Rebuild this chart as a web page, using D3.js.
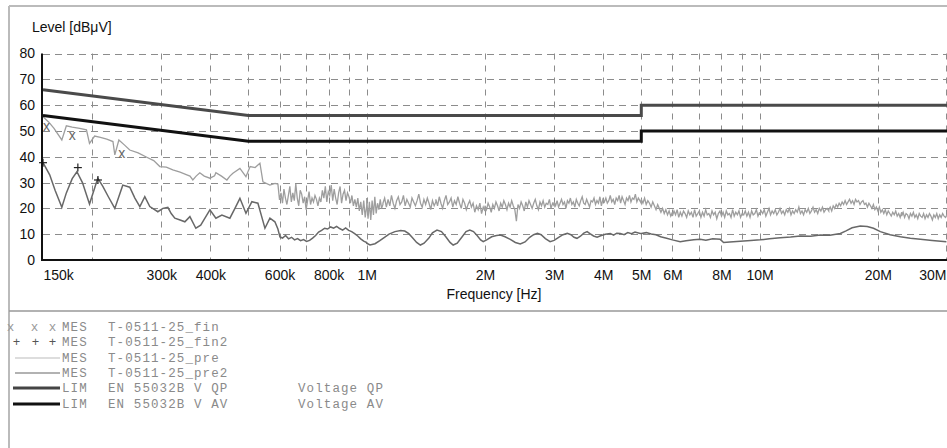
<!DOCTYPE html>
<html>
<head>
<meta charset="utf-8">
<script src="https://cdn.jsdelivr.net/npm/d3@7"></script>
<style>
  body { margin: 0; background: #fff; }
  svg { display: block; }
  .lbl { font-family: "Liberation Sans", Arial, sans-serif; font-size: 14px; fill: #111; }
  .leg { font-family: "Liberation Mono", "Courier New", monospace; font-size: 12.5px; letter-spacing: 1.1px; fill: #8a8a8a; }
</style>
</head>
<body>
<div class="chart"></div>
<script>

var svgWidth = 947;
var svgHeight = 448;

// limits (MHz, dBuV)
var limQP = [[0.15, 66], [0.5, 56], [5, 56], [5, 60], [30, 60]];
var limAV = [[0.15, 56], [0.5, 46], [5, 46], [5, 50], [30, 50]];

// final measurements
var finQP = [[0.153, 51.7], [0.178, 48], [0.238, 41]];
var finAV = [[0.15, 37.7], [0.184, 35.8], [0.207, 31]];

// pre scan, upper trace, below 600k
var preLow = [[0.150,55.5],[0.155,53.5],[0.160,51],[0.1675,46.5],[0.172,52],[0.178,51.5],[0.186,51],[0.1935,50.4],
  [0.197,45.2],[0.203,48],[0.210,47.5],[0.218,46.8],[0.226,45.9],[0.2285,40.7],[0.234,46.5],[0.242,44.5],
  [0.2494,42.6],[0.262,41.5],[0.2756,39.8],[0.287,38.5],[0.2975,36.2],[0.309,36],[0.321,34.9],[0.335,34],
  [0.3485,33],[0.355,32.5],[0.361,31],[0.368,32.5],[0.376,33.8],[0.386,32.5],[0.399,31.7],[0.41,32.6],
  [0.4132,33.8],[0.427,32.5],[0.4407,31],[0.4485,32.5],[0.4565,33.6],[0.4757,35.5],[0.4928,32.3],[0.505,36.2],
  [0.52,35.8],[0.5286,36.8],[0.5349,37.5],[0.5444,30.3],[0.5671,29],[0.5843,29.7],[0.5943,29.4],[0.600,23.3]];

// pre scan, upper trace, sweep segments [start MHz, stop MHz, values]
var preA = [23.3,26,22,27.5,24,21.5,25,28.5,22.5,26,23,29.5,24,21,27,25.5,22,24.5,19.5,23,26.5,21.5,24,22.5,25,
  23.5,21,24,22.5,27,24,28.5,22.5,26.5,25,29,23,27.5,24,21.5,26,28.5,22,25.5,27,23,26,24.5,22,25,21,23.5,20.5,
  24,19,22.5,17.5,23,16.5,21];
var preB1 = [24,16,22.5,15.5,23,17.5,24.5,18,22,19.5,23.5,20,21.5];
var preB2 = [22,24,20.5,23.5,21,25,22,20,23,24.5,21.5,22.5,25,21,23.5,22,20.5,24,22.5,21,23,25.5,22,20.5,23.5,
  21.5,24,22,19.5,23,21,22.5];
var preB3 = [23.5,21,24.5,22,20,23,25,21.5,22.5,24,20.5,23,21.5,24.5,22,20,23.5,22,19.5,21.5,23,20.5,22,18.5,
  21,19.5,22,18,20.5,19];
var preB4 = [21,19.5,22,20.5,18.5,21.5,20,22.5,21,19,22,20.5,23,21.5,19.5,22,20.5,23,21,19.5,15,21.5,20,22.5,
  21,19,22.5,20.5,23,21.5,20,22,23.5,21,19.5,22.5,21,23,20.5,22,21.5,23.5,20,22,21];
var preB5 = [22.5,21,23,20.5,22,23.5,21.5,22.5,20,23,22,24,21.5,22.5,20.5,23.5,22,21,23,24.5,22,21.5,23.5,22,
  20.5,23,22.5,24,21.5,23,22,24.5,21,23.5,22.5,24,22,23,25,22.5,23.5,21.5,24,23,25,22,24.5,23,21.5,24,23,25,
  22.5,24,23.5,25.5,22.5,24,23,22];
var preC1 = [23.5,22,24,21.5,23,22,20.5,22.5,21,19.5,21.5,20,18.5,20,18,19.5,17.5,19,17,18.5];
var preC2 = [17,19,17.5,19.5,16.5,18.5,17,19,18,16.5,19,17.5,18.5,16.5,19.5,17,18,19,16.5,18.5,17,19.5,17.5,18,
  16.5,19,17.5,18.5,16,18,19,17,18.5,16.5,19,17.5,18,16.5,19.5,17,18.5,17.5,19,16.5,18,17.5,19,17,18.5,16.5,
  19,17.5,18,19.5,17,18.5];
var preC3 = [17.5,19,18,19.5,17,18.5,20,17.5,19,18,19.5,17.5,18.5,20,18,19,17.5,19.5,18.5,20,17.5,19,18,19.5,
  18.5,20.5,18,19,17.5,19.5,18.5,20,18,19,20.5,18.5,19.5,18,20,19,20.5,18.5,19.5,20,19];
var preC4 = [19.5,20.5,19,21,20,21.5,20.5,22,21,22.5,21.5,23,21.5,22.5,23.5,22,23,21.5,23.5,22.5,23,21.5,22.5,
  23,21.5,22,20.5,22,21,20,21.5,19.5,20.5,19,20.5,18.5,19.5,18,19.5,17.5,19,18,17,18.5,17.5,19,17,18,16.5,18.5];
var preC5 = [17,18.5,16.5,18,17.5,16,18,17,18.5,16.5,17.5,16,18,17,16.5,18,16,17.5,16.5,18,17,15.5,17.5,16.5,
  18,16,17.5,16.5,18,17,16.5,17.5];

// pre scan 2, lower trace
var pre2Low = [[0.150,37.7],[0.156,33],[0.161,27],[0.1675,20.4],[0.172,26],[0.178,31.5],[0.183,34.2],[0.189,30],
  [0.197,21.7],[0.2068,31.7],[0.213,28.5],[0.220,24.5],[0.2285,20],[0.2394,29],[0.2494,28.2],[0.257,24],
  [0.2646,20.7],[0.2724,24.5],[0.2805,20.7],[0.294,18.7],[0.3029,20],[0.3118,20.4],[0.318,18],[0.3248,16.2],
  [0.335,15.5],[0.3445,14.8],[0.3548,16.8],[0.3674,12.3],[0.378,13.5],[0.3875,16.2],[0.399,19.4],[0.4132,16.2],
  [0.428,17.4],[0.4485,16.2],[0.462,20],[0.4757,23.9],[0.4928,18.1],[0.5103,22.6],[0.5286,22],[0.54,17],
  [0.5508,12.3],[0.5671,16.2],[0.5839,14.8],[0.5943,12],[0.6013,9]];
var pre2A = [9,8.5,9.5,8.2,8.8,7.8,8.3,7.5,7.9,7.2,7.6,8.5,9.5,10.8,11.5,12.3,12,12.8,12.3,13,12.2,11.6,12.4,
  11.5,11,10.2,9.3,8.2,7.3,6.8];
var pre2High = [[1.0,6.5],[1.02,5.8],[1.05,6.3],[1.08,7.5],[1.11,8.8],[1.14,10],[1.18,11],[1.22,11.4],[1.25,11.2],
  [1.28,10.2],[1.31,8.5],[1.34,6.8],[1.37,5.8],[1.40,6.5],[1.44,8.5],[1.47,10.5],[1.51,11.6],[1.55,11],[1.59,9],
  [1.63,6.8],[1.66,5.8],[1.70,6.5],[1.75,9],[1.79,11],[1.83,11.6],[1.87,11],[1.91,9.5],[1.95,7.8],[1.98,7.1],
  [2.02,7.8],[2.08,9],[2.14,9.5],[2.19,9.7],[2.25,9],[2.32,8],[2.39,6.8],[2.46,6.2],[2.53,7],[2.60,8.8],
  [2.66,9.8],[2.72,10.3],[2.78,9.8],[2.85,8.3],[2.93,7.1],[3.00,7.6],[3.08,8.8],[3.16,9.8],[3.24,10.3],
  [3.31,9.8],[3.37,8.8],[3.43,8.4],[3.50,9.2],[3.57,10.4],[3.64,11],[3.70,10.2],[3.78,9.3],[3.86,8.8],
  [3.94,9.4],[4.05,10],[4.17,10.3],[4.25,9.6],[4.33,10.4],[4.42,10.3],[4.52,9.8],[4.62,10.6],[4.72,10.2],
  [4.82,10.8],[4.97,10.3],[5.0,10.3],[5.15,10.6],[5.3,10.1],[5.45,9.8],[5.6,9.0],[5.8,8.4],[6.0,7.8],
  [6.28,7.1],[6.5,7.5],[6.8,7.8],[7.06,8.0],[7.3,7.7],[7.6,8.2],[7.94,8],[8.1,6.8],[8.4,7],[8.93,7.3],
  [9.5,7.6],[10.04,7.8],[10.6,8.2],[11.29,8.6],[12,8.9],[12.7,9.3],[13.5,9.2],[14.28,9.7],[15.1,9.6],
  [16.06,10.3],[16.6,11.3],[17.2,12.5],[18.05,13.2],[18.8,13],[19.5,12.3],[20.3,11],[21.5,9.8],[22.83,9],
  [24.2,8.4],[25.67,8],[27.5,7.6],[29.9,7.1]];

var xTicks = [0.15, 0.3, 0.4, 0.6, 0.8, 1, 2, 3, 4, 5, 6, 8, 10, 20, 30];
var xTickLabels = ["150k", "300k", "400k", "600k", "800k", "1M", "2M", "3M", "4M", "5M", "6M", "8M", "10M", "20M", "30M"];
var xGrid = [0.2, 0.3, 0.4, 0.5, 0.6, 0.7, 0.8, 0.9, 1, 2, 3, 4, 5, 6, 7, 8, 9, 10, 20, 30];
var yTicks = [0, 10, 20, 30, 40, 50, 60, 70, 80];

function sweep(f0, f1, vals) {
  var n = vals.length - 1;
  return vals.map(function(v, i) { return [f0 * Math.pow(f1 / f0, i / n), v]; });
}

var preTrace = preLow
  .concat(sweep(0.6, 1.0, preA))
  .concat(sweep(1.0, 1.1, preB1))
  .concat(sweep(1.1, 1.5, preB2))
  .concat(sweep(1.5, 2.0, preB3))
  .concat(sweep(2.0, 3.0, preB4))
  .concat(sweep(3.0, 5.0, preB5))
  .concat(sweep(5.0, 6.0, preC1))
  .concat(sweep(6.0, 10, preC2))
  .concat(sweep(10, 15, preC3))
  .concat(sweep(15, 23, preC4))
  .concat(sweep(23, 30, preC5));

var pre2Trace = pre2Low
  .concat(sweep(0.6, 1.0, pre2A))
  .concat(pre2High);

var svg = d3.select(".chart")
  .append("svg")
  .attr("width", svgWidth)
  .attr("height", svgHeight);

var x = d3.scaleLog().domain([0.15, 30]).range([43, 947]);
var y = d3.scaleLinear().domain([0, 80]).range([260, 53.5]);

// frame
svg.append("line").attr("x1", 9).attr("x2", 947).attr("y1", 6).attr("y2", 6)
  .attr("stroke", "#bbb").attr("stroke-width", 2);
svg.append("line").attr("x1", 9).attr("x2", 9).attr("y1", 6).attr("y2", 448)
  .attr("stroke", "#bbb").attr("stroke-width", 2);
svg.append("line").attr("x1", 9).attr("x2", 947).attr("y1", 311).attr("y2", 311)
  .attr("stroke", "#999").attr("stroke-width", 1.5);

// grid
svg.append("g").selectAll("line")
  .data(yTicks.slice(1))
  .enter().append("line")
  .attr("x1", 43).attr("x2", 947)
  .attr("y1", d => Math.round(y(d)) + 0.5).attr("y2", d => Math.round(y(d)) + 0.5)
  .attr("stroke", "#8c8c8c").attr("stroke-dasharray", "7,5");

svg.append("g").selectAll("line")
  .data(xGrid)
  .enter().append("line")
  .attr("x1", d => Math.min(946, Math.round(x(d))) + 0.5).attr("x2", d => Math.min(946, Math.round(x(d))) + 0.5)
  .attr("y1", y(80)).attr("y2", y(0))
  .attr("stroke", "#8c8c8c").attr("stroke-dasharray", "6,6");

svg.append("clipPath").attr("id", "plot")
  .append("rect").attr("x", 42).attr("y", 40).attr("width", 905).attr("height", 221);

var line = d3.line().x(d => x(d[0])).y(d => y(d[1]));

var plot = svg.append("g").attr("clip-path", "url(#plot)");

plot.append("path").datum(preTrace)
  .attr("d", line).attr("fill", "none")
  .attr("stroke", "#9e9e9e").attr("stroke-width", 1.3);

plot.append("path").datum(pre2Trace)
  .attr("d", line).attr("fill", "none")
  .attr("stroke", "#686868").attr("stroke-width", 1.5);

plot.append("path").datum(limQP)
  .attr("d", line).attr("fill", "none")
  .attr("stroke", "#4a4a4a").attr("stroke-width", 3);

plot.append("path").datum(limAV)
  .attr("d", line).attr("fill", "none")
  .attr("stroke", "#111").attr("stroke-width", 3);

// markers
svg.append("g").selectAll("text")
  .data(finQP)
  .enter().append("text")
  .attr("class", "lbl")
  .attr("x", d => x(d[0])).attr("y", d => y(d[1]))
  .attr("dy", "0.3em")
  .attr("text-anchor", "middle")
  .style("font-size", "14px")
  .style("fill", "#666")
  .text("x");

var cross = svg.append("g").attr("stroke", "#222").attr("stroke-width", 1.2);
finAV.forEach(function(d) {
  var cx = x(d[0]), cy = y(d[1]);
  cross.append("line").attr("x1", cx - 4).attr("x2", cx + 4).attr("y1", cy).attr("y2", cy);
  cross.append("line").attr("x1", cx).attr("x2", cx).attr("y1", cy - 4).attr("y2", cy + 4);
});

// axes
var leftAxis = d3.axisLeft(y).tickValues(yTicks).tickSize(0).tickPadding(7);
var yAxisG = svg.append("g").attr("transform", "translate(42,0)").call(leftAxis);
yAxisG.select(".domain").remove();
yAxisG.selectAll("text").attr("class", "lbl").attr("font-size", null).attr("font-family", null);

var bottomAxis = d3.axisBottom(x).tickValues(xTicks).tickSize(0).tickPadding(10)
  .tickFormat((d, i) => xTickLabels[i]);
var xAxisG = svg.append("g").attr("transform", "translate(0,260)").call(bottomAxis);
xAxisG.select(".domain").remove();
xAxisG.selectAll("text").attr("class", "lbl").attr("font-size", null).attr("font-family", null);
xAxisG.selectAll("text").filter((d, i) => i === 0).attr("text-anchor", "start");
xAxisG.selectAll("text").filter((d, i) => i === xTicks.length - 1).attr("text-anchor", "end").attr("dx", "-1");

svg.append("line").attr("x1", 42).attr("x2", 42).attr("y1", y(80)).attr("y2", y(0) + 1)
  .attr("stroke", "#111").attr("stroke-width", 2);
svg.append("line").attr("x1", 41).attr("x2", 947).attr("y1", y(0)).attr("y2", y(0))
  .attr("stroke", "#111").attr("stroke-width", 2);

svg.append("text").attr("class", "lbl")
  .attr("x", 32).attr("y", 32)
  .text("Level [dBμV]");

svg.append("text").attr("class", "lbl")
  .attr("x", 494).attr("y", 299)
  .attr("text-anchor", "middle")
  .text("Frequency [Hz]");

// legend
var legRows = [
  { kind: "MES", name: "T-0511-25_fin", desc: "" },
  { kind: "MES", name: "T-0511-25_fin2", desc: "" },
  { kind: "MES", name: "T-0511-25_pre", desc: "" },
  { kind: "MES", name: "T-0511-25_pre2", desc: "" },
  { kind: "LIM", name: "EN 55032B V QP", desc: "Voltage QP" },
  { kind: "LIM", name: "EN 55032B V AV", desc: "Voltage AV" }
];
var legY = [331, 346, 362, 377, 392, 408];

var leg = svg.append("g");
legRows.forEach(function(r, i) {
  leg.append("text").attr("class", "leg").attr("x", 62).attr("y", legY[i]).text(r.kind);
  leg.append("text").attr("class", "leg").attr("x", 108).attr("y", legY[i]).text(r.name);
  if (r.desc) leg.append("text").attr("class", "leg").attr("x", 298).attr("y", legY[i]).text(r.desc);
});

[11, 35, 53].forEach(function(px) {
  leg.append("text").attr("class", "leg").attr("x", px).attr("y", legY[0])
    .attr("text-anchor", "middle").style("fill", "#999").text("x");
});
[17, 36, 53].forEach(function(px) {
  leg.append("text").attr("class", "leg").attr("x", px).attr("y", legY[1])
    .attr("text-anchor", "middle").style("fill", "#555").text("+");
});

var legLines = [
  { row: 2, x1: 15, color: "#bbb", w: 1 },
  { row: 3, x1: 15, color: "#999", w: 1.3 },
  { row: 4, x1: 13, color: "#444", w: 3 },
  { row: 5, x1: 13, color: "#111", w: 3 }
];
legLines.forEach(function(l) {
  leg.append("line").attr("x1", l.x1).attr("x2", 60)
    .attr("y1", legY[l.row] - 4).attr("y2", legY[l.row] - 4)
    .attr("stroke", l.color).attr("stroke-width", l.w);
});

</script>
</body>
</html>
